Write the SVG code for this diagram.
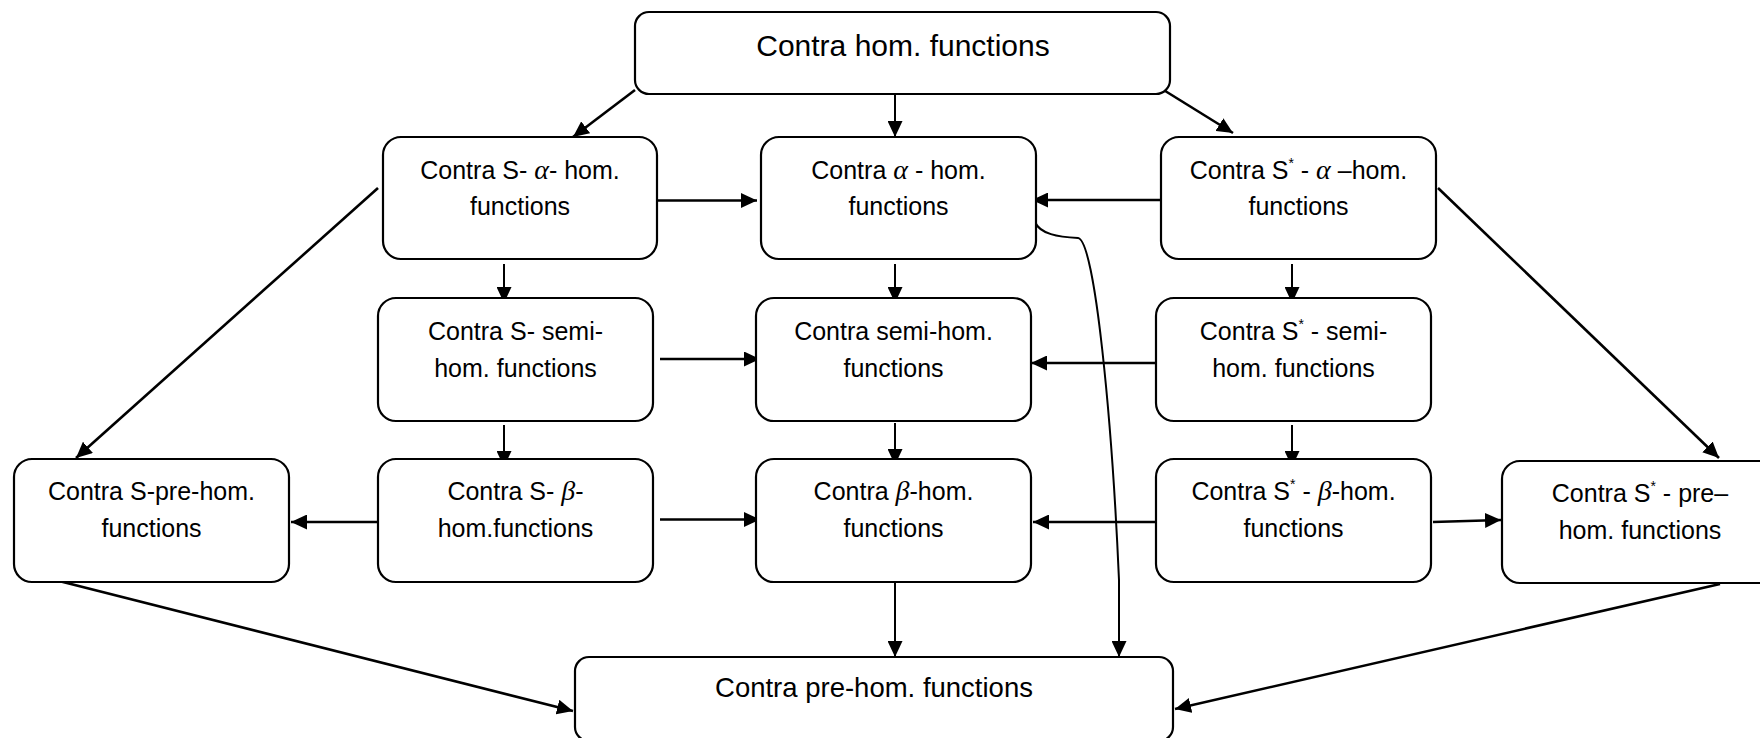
<svg xmlns="http://www.w3.org/2000/svg" width="1760" height="738" viewBox="0 0 1760 738">
<defs>
<style>
.box{fill:#fff;stroke:#000;stroke-width:2.2}
.t{font-family:"Liberation Sans",Arial,sans-serif;font-size:25px;fill:#000;text-anchor:middle}
.top{font-size:30px}
.bot{font-size:27.5px}
.g{font-family:"Liberation Serif","DejaVu Serif",serif;font-style:italic;font-size:28px}
.c{fill:none;stroke:#000;stroke-width:2.6}
.thin{stroke-width:2}
</style>
<marker id="ah" markerUnits="userSpaceOnUse" markerWidth="17" markerHeight="15" refX="16" refY="7.5" orient="auto">
<path d="M0,0 L16,7.5 L0,15 z" fill="#000"/>
</marker>
</defs>
<rect width="1760" height="738" fill="#fff"/>

<g id="connectors">
<path class="c" d="M635,90 L573,137" marker-end="url(#ah)"/>
<path class="c thin" d="M895,94 L895,137" marker-end="url(#ah)"/>
<path class="c" d="M1162,89 L1233,133" marker-end="url(#ah)"/>
<path class="c" d="M658,200.5 L757,200.5" marker-end="url(#ah)"/>
<path class="c" d="M1160,200 L1032,200" marker-end="url(#ah)"/>
<path class="c thin" d="M1035,222 C1040,234 1058,237 1078,238 C1095,240 1112,420 1119,580 L1119,657" marker-end="url(#ah)"/>
<path class="c thin" d="M504,264 L504,303" marker-end="url(#ah)"/>
<path class="c thin" d="M895,264 L895,303" marker-end="url(#ah)"/>
<path class="c thin" d="M1292,264 L1292,303" marker-end="url(#ah)"/>
<path class="c" d="M660,359 L760,359" marker-end="url(#ah)"/>
<path class="c" d="M1156,363 L1031,363" marker-end="url(#ah)"/>
<path class="c thin" d="M504,425 L504,467" marker-end="url(#ah)"/>
<path class="c thin" d="M895,423 L895,465" marker-end="url(#ah)"/>
<path class="c thin" d="M1292,425 L1292,467" marker-end="url(#ah)"/>
<path class="c" d="M378,522 L291,522" marker-end="url(#ah)"/>
<path class="c" d="M660,519.5 L760,519.5" marker-end="url(#ah)"/>
<path class="c" d="M1158,522 L1033,522" marker-end="url(#ah)"/>
<path class="c" d="M1433,522 L1501,520" marker-end="url(#ah)"/>
<path class="c" d="M378,188 L76,458" marker-end="url(#ah)"/>
<path class="c" d="M1438,188 L1719,458" marker-end="url(#ah)"/>
<path class="c thin" d="M895,582 L895,657" marker-end="url(#ah)"/>
<path class="c" d="M59,581 L573,711" marker-end="url(#ah)"/>
<path class="c" d="M1720,584 L1175,709" marker-end="url(#ah)"/>
</g>

<g id="n-top">
<rect class="box" x="635" y="12" width="535" height="82" rx="14"/>
<text class="t top" x="903" y="56">Contra hom. functions</text>
</g>
<g id="n-s-alpha">
<rect class="box" x="383" y="137" width="274" height="122" rx="18"/>
<text class="t" x="520" y="179">Contra S- <tspan class="g">α</tspan>- hom.</text>
<text class="t" x="520" y="215">functions</text>
</g>
<g id="n-alpha">
<rect class="box" x="761" y="137" width="275" height="122" rx="18"/>
<text class="t" x="898.5" y="179">Contra <tspan class="g">α</tspan> - hom.</text>
<text class="t" x="898.5" y="215">functions</text>
</g>
<g id="n-sstar-alpha">
<rect class="box" x="1161" y="137" width="275" height="122" rx="18"/>
<text class="t" x="1298.5" y="179">Contra S<tspan font-size="14" dy="-11">*</tspan><tspan dy="11"> - </tspan><tspan class="g">α</tspan> –hom.</text>
<text class="t" x="1298.5" y="215">functions</text>
</g>
<g id="n-s-semi">
<rect class="box" x="378" y="298" width="275" height="123" rx="18"/>
<text class="t" x="515.5" y="340">Contra S- semi-</text>
<text class="t" x="515.5" y="377">hom. functions</text>
</g>
<g id="n-semi">
<rect class="box" x="756" y="298" width="275" height="123" rx="18"/>
<text class="t" x="893.5" y="340">Contra semi-hom.</text>
<text class="t" x="893.5" y="377">functions</text>
</g>
<g id="n-sstar-semi">
<rect class="box" x="1156" y="298" width="275" height="123" rx="18"/>
<text class="t" x="1293.5" y="340">Contra S<tspan font-size="14" dy="-11">*</tspan><tspan dy="11"> - semi-</tspan></text>
<text class="t" x="1293.5" y="377">hom. functions</text>
</g>
<g id="n-s-pre">
<rect class="box" x="14" y="459" width="275" height="123" rx="18"/>
<text class="t" x="151.5" y="500">Contra S-pre-hom.</text>
<text class="t" x="151.5" y="537">functions</text>
</g>
<g id="n-s-beta">
<rect class="box" x="378" y="459" width="275" height="123" rx="18"/>
<text class="t" x="515.5" y="500">Contra S- <tspan class="g">β</tspan>-</text>
<text class="t" x="515.5" y="537">hom.functions</text>
</g>
<g id="n-beta">
<rect class="box" x="756" y="459" width="275" height="123" rx="18"/>
<text class="t" x="893.5" y="500">Contra <tspan class="g">β</tspan>-hom.</text>
<text class="t" x="893.5" y="537">functions</text>
</g>
<g id="n-sstar-beta">
<rect class="box" x="1156" y="459" width="275" height="123" rx="18"/>
<text class="t" x="1293.5" y="500">Contra S<tspan font-size="14" dy="-11">*</tspan><tspan dy="11"> -  </tspan><tspan class="g">β</tspan>-hom.</text>
<text class="t" x="1293.5" y="537">functions</text>
</g>
<g id="n-sstar-pre">
<rect class="box" x="1502" y="461" width="276" height="122" rx="18"/>
<text class="t" x="1640" y="502">Contra S<tspan font-size="14" dy="-11">*</tspan><tspan dy="11"> - pre–</tspan></text>
<text class="t" x="1640" y="539">hom. functions</text>
</g>
<g id="n-pre">
<rect class="box" x="575" y="657" width="598" height="84" rx="14"/>
<text class="t bot" x="874" y="697">Contra pre-hom. functions</text>
</g>
</svg>
